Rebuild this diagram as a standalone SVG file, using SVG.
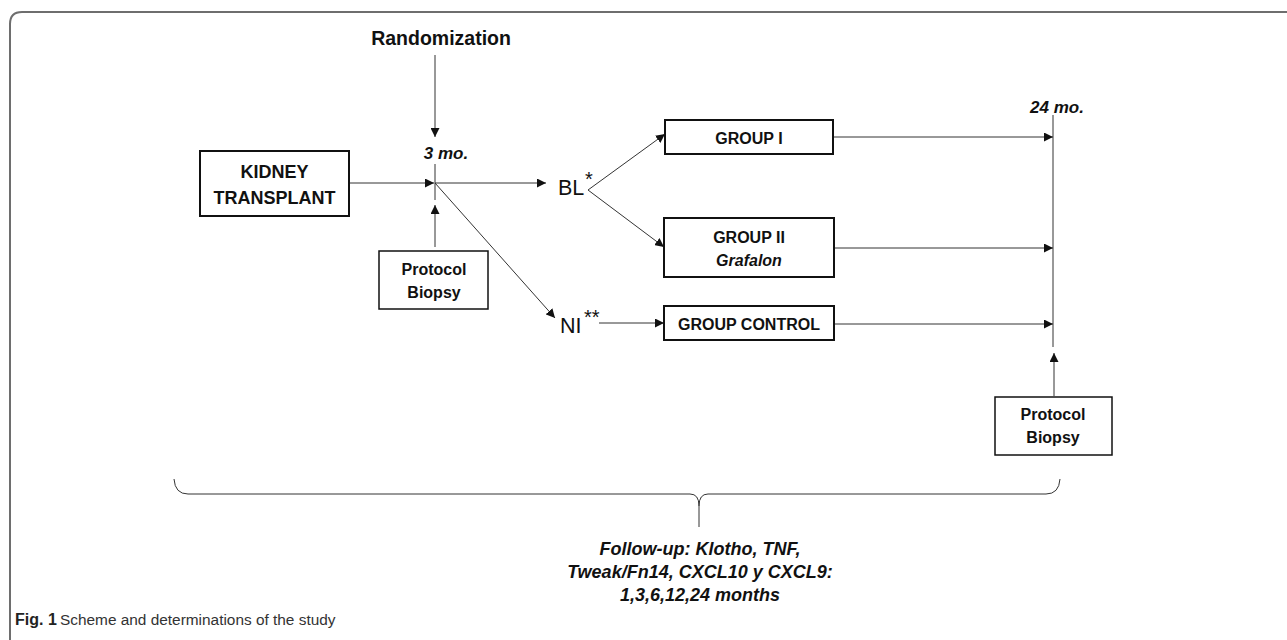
<svg xmlns="http://www.w3.org/2000/svg" width="1287" height="640" viewBox="0 0 1287 640">
<defs>
<marker id="ah" viewBox="0 0 10 10" refX="10" refY="5" markerWidth="9" markerHeight="9" markerUnits="userSpaceOnUse" orient="auto">
<path d="M0,0 L10,5 L0,10 z" fill="#111"/>
</marker>
<style>
.box{fill:#fff;stroke:#111;stroke-width:2}
.box1{fill:#fff;stroke:#111;stroke-width:1.5}
.ln{fill:none;stroke:#333;stroke-width:1}
.arr{fill:none;stroke:#333;stroke-width:1;marker-end:url(#ah)}
.b{font-family:"Liberation Sans",Arial,sans-serif;font-weight:bold;fill:#111;text-anchor:middle}
.bi{font-family:"Liberation Sans",Arial,sans-serif;font-weight:bold;font-style:italic;fill:#111;text-anchor:middle}
.r{font-family:"Liberation Sans",Arial,sans-serif;fill:#111}
</style>
</defs>
<rect width="1287" height="640" fill="#fff"/>
<path d="M10,640 V24 Q10,12 22,12 H1287" fill="none" stroke="#6e6e6e" stroke-width="2"/>

<g id="connectors">
<line class="arr" x1="435" y1="55" x2="435" y2="137"/>
<line class="ln" x1="435" y1="164" x2="435" y2="200"/>
<line class="arr" x1="349" y1="183" x2="434" y2="183"/>
<line class="arr" x1="435" y1="183" x2="546" y2="183"/>
<line class="arr" x1="435" y1="247" x2="435" y2="205"/>
<line class="arr" x1="435" y1="183" x2="555" y2="318"/>
<line class="arr" x1="588" y1="190" x2="665" y2="134"/>
<line class="arr" x1="588" y1="190" x2="664" y2="247"/>
<line class="arr" x1="599" y1="323" x2="664" y2="323"/>
<line class="arr" x1="833" y1="137" x2="1053" y2="137"/>
<line class="arr" x1="834" y1="248" x2="1053" y2="248"/>
<line class="arr" x1="834" y1="324" x2="1053" y2="324"/>
<line class="ln" x1="1053" y1="115" x2="1053" y2="347"/>
<line class="arr" x1="1054" y1="396" x2="1054" y2="353"/>
<path class="ln" d="M174,479 Q175,494 188,494 H690 Q699,494 699,506 Q699,494 708,494 H1046 Q1059,494 1060,479 M699,506 V527" stroke-width="1.8" stroke="#111"/>
</g>

<g id="randomization"><text class="b" x="441" y="45" font-size="19.5">Randomization</text></g>
<g id="t3mo"><text class="bi" x="446" y="159" font-size="17">3 mo.</text></g>
<g id="t24mo"><text class="bi" x="1057" y="113" font-size="17">24 mo.</text></g>

<g id="kidney">
<rect class="box" x="200" y="151" width="149" height="65"/>
<text class="b" x="274.5" y="178" font-size="18">KIDNEY</text>
<text class="b" x="274.5" y="204" font-size="18">TRANSPLANT</text>
</g>

<g id="biopsy1">
<rect class="box1" x="379" y="251" width="109" height="58"/>
<text class="b" x="434" y="275" font-size="16">Protocol</text>
<text class="b" x="434" y="298" font-size="16">Biopsy</text>
</g>

<g id="bl">
<text class="r" x="558" y="195" font-size="21.5">BL</text>
<text class="r" x="585" y="186" font-size="20">*</text>
</g>

<g id="ni">
<text class="r" x="560" y="333" font-size="21.5">NI</text>
<text class="r" x="584" y="324" font-size="20">**</text>
</g>

<g id="group1">
<rect class="box" x="665" y="120" width="168" height="34"/>
<text class="b" x="749" y="144" font-size="16">GROUP I</text>
</g>

<g id="group2">
<rect class="box" x="664" y="218" width="170" height="59"/>
<text class="b" x="749" y="243" font-size="16">GROUP II</text>
<text class="bi" x="749" y="266" font-size="16">Grafalon</text>
</g>

<g id="groupcontrol">
<rect class="box" x="664" y="306" width="170" height="34"/>
<text class="b" x="749" y="330" font-size="16">GROUP CONTROL</text>
</g>

<g id="biopsy2">
<rect class="box1" x="995" y="397" width="117" height="58"/>
<text class="b" x="1053" y="420" font-size="16">Protocol</text>
<text class="b" x="1053" y="443" font-size="16">Biopsy</text>
</g>

<g id="followup">
<text class="bi" x="700" y="555" font-size="18">Follow-up: Klotho, TNF,</text>
<text class="bi" x="700" y="578" font-size="18">Tweak/Fn14, CXCL10 y CXCL9:</text>
<text class="bi" x="700" y="601" font-size="18">1,3,6,12,24 months</text>
</g>

<g id="caption">
<text x="15" y="625" font-family="Liberation Sans,Arial,sans-serif" font-size="16" font-weight="bold" fill="#222">Fig. 1</text>
<text x="60" y="625" font-family="Liberation Sans,Arial,sans-serif" font-size="15.4" fill="#333">Scheme and determinations of the study</text>
</g>
</svg>
